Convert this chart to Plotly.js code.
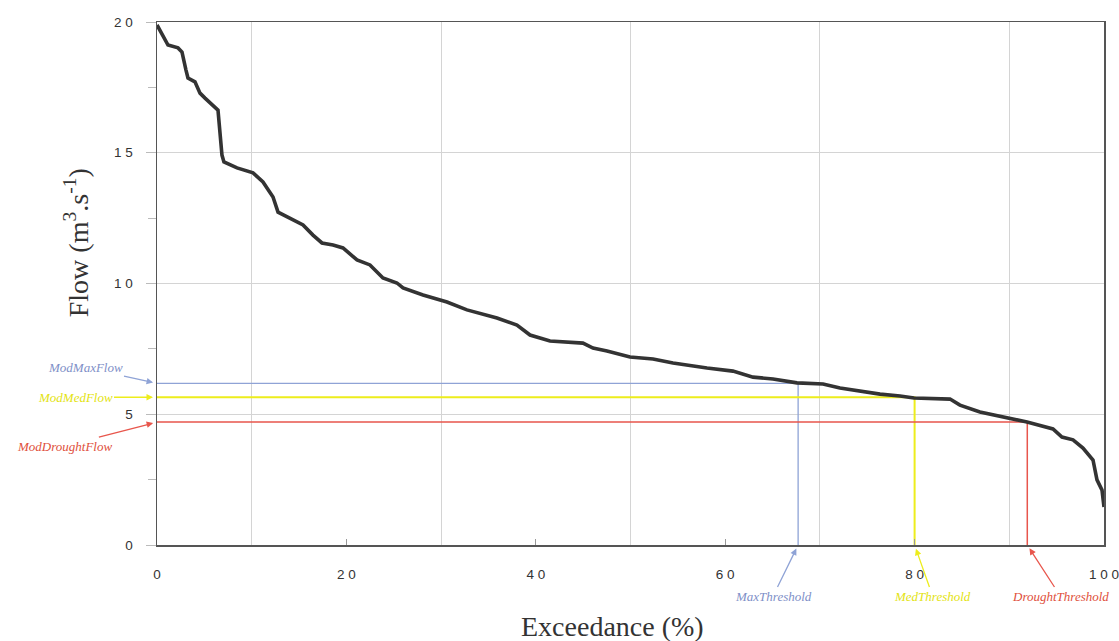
<!DOCTYPE html>
<html>
<head>
<meta charset="utf-8">
<script src="https://cdn.plot.ly/plotly-3.0.1.min.js"></script>
<style>html,body{margin:0;padding:0;background:#fff;}#chart{width:1119px;height:641px;}</style>
</head>
<body>
<div id="chart"></div>
<script>
// Flow duration curve
const exceedance = [0, 0.32, 0.63, 1.16, 2.22, 2.64, 3.06, 3.27, 4.01, 4.54, 5.07, 6.12, 6.44, 6.86, 7.07, 8.45, 10.14, 11.19, 12.25, 12.78, 14.04, 15.42, 16.47, 17.42, 18.59, 19.64, 21.12, 22.49, 23.86, 25.34, 25.98, 28.09, 30.62, 32.73, 35.90, 38.01, 39.39, 41.50, 44.98, 46.04, 47.52, 49.95, 52.38, 54.49, 58.08, 60.82, 62.94, 65.05, 67.58, 70.33, 72.12, 74.22, 76.35, 78.46, 79.94, 83.74, 84.79, 86.90, 89.02, 91.87, 94.61, 95.56, 96.73, 97.78, 98.84, 99.26, 99.79, 100.0];
const flow = [19.89, 19.69, 19.43, 19.12, 19.01, 18.85, 18.16, 17.86, 17.71, 17.28, 17.09, 16.75, 16.63, 14.91, 14.65, 14.42, 14.23, 13.88, 13.31, 12.73, 12.50, 12.24, 11.85, 11.55, 11.47, 11.36, 10.90, 10.71, 10.21, 10.02, 9.83, 9.56, 9.29, 8.99, 8.68, 8.41, 8.03, 7.80, 7.72, 7.53, 7.42, 7.19, 7.11, 6.96, 6.77, 6.65, 6.42, 6.35, 6.20, 6.16, 6.00, 5.89, 5.77, 5.70, 5.62, 5.58, 5.35, 5.09, 4.93, 4.70, 4.44, 4.13, 4.02, 3.71, 3.25, 2.49, 2.10, 1.45];

// Thresholds
const thresholdExc = [67.7, 80.0, 91.9];
const thresholdFlow = [6.18, 5.65, 4.70];
const flowLabels = ["ModMaxFlow", "ModMedFlow", "ModDroughtFlow"];
const threshLabels = ["MaxThreshold", "MedThreshold", "DroughtThreshold"];
const colors = ["#8fa3d6", "#eded1c", "#e8564c"];
const textColors = ["#8090c8", "#e3e312", "#e0503c"];

// Axis ticks and titles
const xTickVals = [0, 20, 40, 60, 80, 100];
const xTickText = ["0", "2 0", "4 0", "6 0", "8 0", "1 0 0"];
const xGridVals = [10, 30, 50, 70, 90];
const yTickVals = [0, 5, 10, 15, 20];
const yTickText = ["0", "5", "1 0", "1 5", "2 0"];
const xTitle = "Exceedance (%)";
const yTitle = "Flow (m<sup>3</sup>.s<sup>-1</sup>)";

const lineWidths = [1.3, 2, 1.5];
const traces = [];
for (let i = 0; i < thresholdExc.length; i++) {
  traces.push({
    x: [0, thresholdExc[i], thresholdExc[i]],
    y: [thresholdFlow[i], thresholdFlow[i], 0],
    mode: "lines",
    line: {color: colors[i], width: lineWidths[i]},
    hoverinfo: "skip",
    showlegend: false
  });
}
traces.push({
  x: exceedance, y: flow, mode: "lines",
  line: {color: "#333333", width: 3.6},
  showlegend: false
});

// annotation offsets (px)
const flowAx = [-72, -82, -93];
const flowAy = [-16, 0, 24];
const thrAx = [-25, 18, 33];
const thrAy = [51, 51, 51];

const labelFont = (c) => ({family: "Liberation Serif, Times New Roman, serif", size: 13, color: c, style: "italic"});
const annotations = [];
for (let i = 0; i < 3; i++) {
  annotations.push({
    x: 0, y: thresholdFlow[i], xref: "x", yref: "y",
    text: flowLabels[i], showarrow: true, arrowhead: 2, arrowsize: 1, arrowwidth: 1.3,
    standoff: 4,
    arrowcolor: colors[i], ax: flowAx[i], ay: flowAy[i],
    font: labelFont(textColors[i])
  });
  annotations.push({
    x: thresholdExc[i], y: 0, xref: "x", yref: "y",
    text: threshLabels[i], showarrow: true, arrowhead: 2, arrowsize: 1, arrowwidth: 1.3,
    standoff: 4,
    arrowcolor: colors[i], ax: thrAx[i], ay: thrAy[i],
    font: labelFont(textColors[i])
  });
}
// axis titles
annotations.push({
  xref: "paper", yref: "paper", x: 0.4805, y: -0.155, xanchor: "center", yanchor: "middle",
  text: xTitle, showarrow: false,
  font: {family: "Liberation Serif, Times New Roman, serif", size: 28, color: "#333"}
});
annotations.push({
  xref: "paper", yref: "paper", x: -0.0855, y: 0.577, xanchor: "center", yanchor: "middle",
  text: yTitle, showarrow: false, textangle: -90,
  font: {family: "Liberation Serif, Times New Roman, serif", size: 28, color: "#333"}
});

const layout = {
  width: 1119, height: 641,
  margin: {l: 157, r: 15, t: 22, b: 96},
  paper_bgcolor: "#fff", plot_bgcolor: "#fff",
  showlegend: false,
  xaxis: {
    range: [0, 100], tickmode: "array", tickvals: xTickVals, ticktext: xTickText,
    ticks: "inside", ticklen: 6, tickcolor: "#999",
    showgrid: false, zeroline: false,
    showline: true, linecolor: "#555", linewidth: 1.5, mirror: true,
    minor: {tickmode: "array", tickvals: xGridVals, showgrid: true, gridcolor: "#d4d4d4", gridwidth: 1, ticks: ""},
    ticklabelstandoff: 16, ticklabeloverflow: "allow",
    tickfont: {family: "Liberation Sans, Arial, sans-serif", size: 13.5, color: "#333"}
  },
  yaxis: {
    range: [0, 20], tickmode: "array", tickvals: yTickVals, ticktext: yTickText,
    ticks: "outside", ticklen: 10, tickcolor: "#bbb",
    showgrid: true, gridcolor: "#d4d4d4", gridwidth: 1, zeroline: false,
    showline: true, linecolor: "#555", linewidth: 1.5, mirror: true,
    minor: {dtick: 2.5, tick0: 0, ticks: "outside", ticklen: 8, tickcolor: "#bbb", showgrid: false},
    ticklabelstandoff: 10,
    tickfont: {family: "Liberation Sans, Arial, sans-serif", size: 13.5, color: "#333"}
  },
  annotations: annotations
};

Plotly.newPlot("chart", traces, layout, {staticPlot: true});
</script>
</body>
</html>
